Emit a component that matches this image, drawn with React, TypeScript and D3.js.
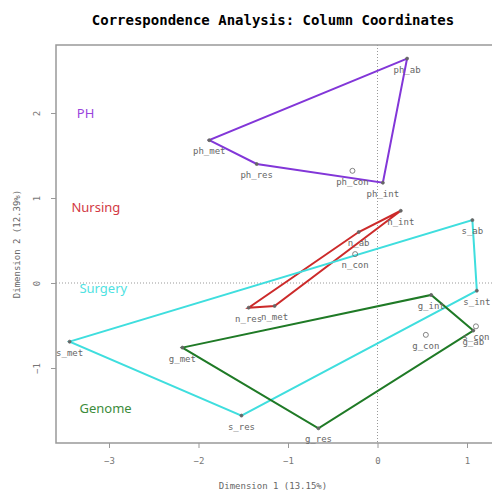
import React, { useEffect, useRef } from 'react';
import * as d3 from 'd3';

// column coordinates
const groups = ['PH', 'Nursing', 'Surgery', 'Genome'];
const phPoints = [
  { name: 'ph_ab', x: 0.33, y: 2.64 },
  { name: 'ph_int', x: 0.06, y: 1.18 },
  { name: 'ph_res', x: -1.35, y: 1.40 },
  { name: 'ph_met', x: -1.88, y: 1.68 },
];
const nPoints = [
  { name: 'n_int', x: 0.26, y: 0.85 },
  { name: 'n_ab', x: -0.21, y: 0.60 },
  { name: 'n_res', x: -1.44, y: -0.29 },
  { name: 'n_met', x: -1.15, y: -0.27 },
];
const sPoints = [
  { name: 's_ab', x: 1.06, y: 0.74 },
  { name: 's_int', x: 1.11, y: -0.09 },
  { name: 's_res', x: -1.52, y: -1.56 },
  { name: 's_met', x: -3.44, y: -0.69 },
];
const gPoints = [
  { name: 'g_int', x: 0.60, y: -0.14 },
  { name: 'g_ab', x: 1.07, y: -0.56 },
  { name: 'g_res', x: -0.66, y: -1.71 },
  { name: 'g_met', x: -2.18, y: -0.76 },
];
// supplementary points (not in the hulls)
const conPoints = [
  { name: 'ph_con', x: -0.28, y: 1.32 },
  { name: 'n_con', x: -0.25, y: 0.34 },
  { name: 's_con', x: 1.10, y: -0.51 },
  { name: 'g_con', x: 0.54, y: -0.61 },
];
const xTicks = [-3, -2, -1, 0, 1];
const yTicks = [-1, 0, 1, 2];

const lineColors = ['#8236d8', '#cc2a2a', '#3fdede', '#1f7a26'];
const textColors = ['#9a44dc', '#d23a44', '#4fe2e2', '#3c8c3c'];
const labelPos = [[-3.36, 2.0], [-3.42, 0.89], [-3.33, -0.06], [-3.33, -1.47]];

const App = () => {
  const svgRef = useRef(null);

  useEffect(() => {
    const m = { left: 56, top: 45, right: 497, bottom: 443 };

    const svg = d3.select(svgRef.current);
    svg.selectAll('*').remove();

    const x = d3.scaleLinear().domain([-3, 1]).range([109, 467]);
    const y = d3.scaleLinear().domain([-1, 2]).range([368, 113]);

    // title
    svg.append('text')
      .attr('x', 273).attr('y', 25)
      .attr('text-anchor', 'middle')
      .attr('font-family', 'DejaVu Sans Mono')
      .attr('font-weight', 'bold')
      .attr('font-size', 14)
      .text('Correspondence Analysis: Column Coordinates');

    // reference lines
    svg.append('line')
      .attr('x1', x(0)).attr('x2', x(0)).attr('y1', m.top).attr('y2', m.bottom)
      .attr('stroke', '#999').attr('stroke-dasharray', '1,2');
    svg.append('line')
      .attr('x1', m.left).attr('x2', m.right).attr('y1', y(0)).attr('y2', y(0))
      .attr('stroke', '#999').attr('stroke-dasharray', '1,2');

    // frame
    svg.append('rect')
      .attr('x', m.left).attr('y', m.top)
      .attr('width', m.right - m.left).attr('height', m.bottom - m.top)
      .attr('fill', 'none').attr('stroke', '#999').attr('stroke-width', 1.5);

    // axes
    const xAxis = svg.append('g').attr('transform', `translate(0,${m.bottom})`);
    xAxis.call(d3.axisBottom(x).tickValues(xTicks).tickSize(5).tickPadding(10).tickFormat(d3.format('d')));
    xAxis.select('.domain').remove();
    xAxis.selectAll('line').attr('stroke', '#999');
    xAxis.selectAll('text').attr('fill', '#777').attr('font-family', 'DejaVu Sans Mono').attr('font-size', 9);

    const yAxis = svg.append('g').attr('transform', `translate(${m.left},0)`);
    yAxis.call(d3.axisLeft(y).tickValues(yTicks).tickSize(5).tickFormat(d3.format('d')));
    yAxis.select('.domain').remove();
    yAxis.selectAll('line').attr('stroke', '#999');
    yAxis.selectAll('text')
      .attr('fill', '#777').attr('font-family', 'DejaVu Sans Mono').attr('font-size', 9)
      .attr('x', null).attr('dy', null)
      .attr('text-anchor', 'middle')
      .attr('transform', 'translate(-16,0) rotate(-90)');

    svg.append('text')
      .attr('x', (m.left + 490) / 2).attr('y', 489)
      .attr('text-anchor', 'middle')
      .attr('font-family', 'DejaVu Sans Mono').attr('font-size', 9).attr('fill', '#666')
      .text('Dimension 1 (13.15%)');
    svg.append('text')
      .attr('transform', `translate(20,${(m.top + m.bottom) / 2}) rotate(-90)`)
      .attr('text-anchor', 'middle')
      .attr('font-family', 'DejaVu Sans Mono').attr('font-size', 9).attr('fill', '#666')
      .text('Dimension 2 (12.39%)');

    const sets = [phPoints, nPoints, sPoints, gPoints];

    // hulls
    sets.forEach((pts, i) => {
      const hull = d3.polygonHull(pts.map(p => [x(p.x), y(p.y)]));
      svg.append('path')
        .attr('d', d3.line().curve(d3.curveLinearClosed)(hull))
        .attr('fill', 'none')
        .attr('stroke', lineColors[i])
        .attr('stroke-width', 2);
    });

    // points + labels
    const allPts = [...sets.flat(), ...conPoints];
    svg.selectAll('.pt')
      .data(allPts)
      .enter()
      .append('circle')
      .attr('class', 'pt')
      .attr('cx', d => x(d.x)).attr('cy', d => y(d.y))
      .attr('r', d => d.name.endsWith('_con') ? 2.5 : 1.5)
      .attr('fill', d => d.name.endsWith('_con') ? 'none' : '#666')
      .attr('stroke', '#666').attr('stroke-width', 0.8);

    svg.selectAll('.lbl')
      .data(allPts)
      .enter()
      .append('text')
      .attr('class', 'lbl')
      .attr('x', d => x(d.x)).attr('y', d => y(d.y) + 14)
      .attr('text-anchor', 'middle')
      .attr('font-family', 'DejaVu Sans Mono').attr('font-size', 9).attr('fill', '#666')
      .text(d => d.name);

    // group names
    svg.selectAll('.grp')
      .data(groups)
      .enter()
      .append('text')
      .attr('class', 'grp')
      .attr('x', (d, i) => x(labelPos[i][0])).attr('y', (d, i) => y(labelPos[i][1]) + 5)
      .attr('font-family', 'Noto Sans').attr('font-size', 13)
      .attr('fill', (d, i) => textColors[i])
      .text(d => d);
  }, []);

  return (
    <div style={{ position: 'absolute', left: 0, top: 0 }}>
      <svg ref={svgRef} width={492} height={494} style={{ display: 'block', background: '#fff' }}></svg>
    </div>
  );
};

export default App;
